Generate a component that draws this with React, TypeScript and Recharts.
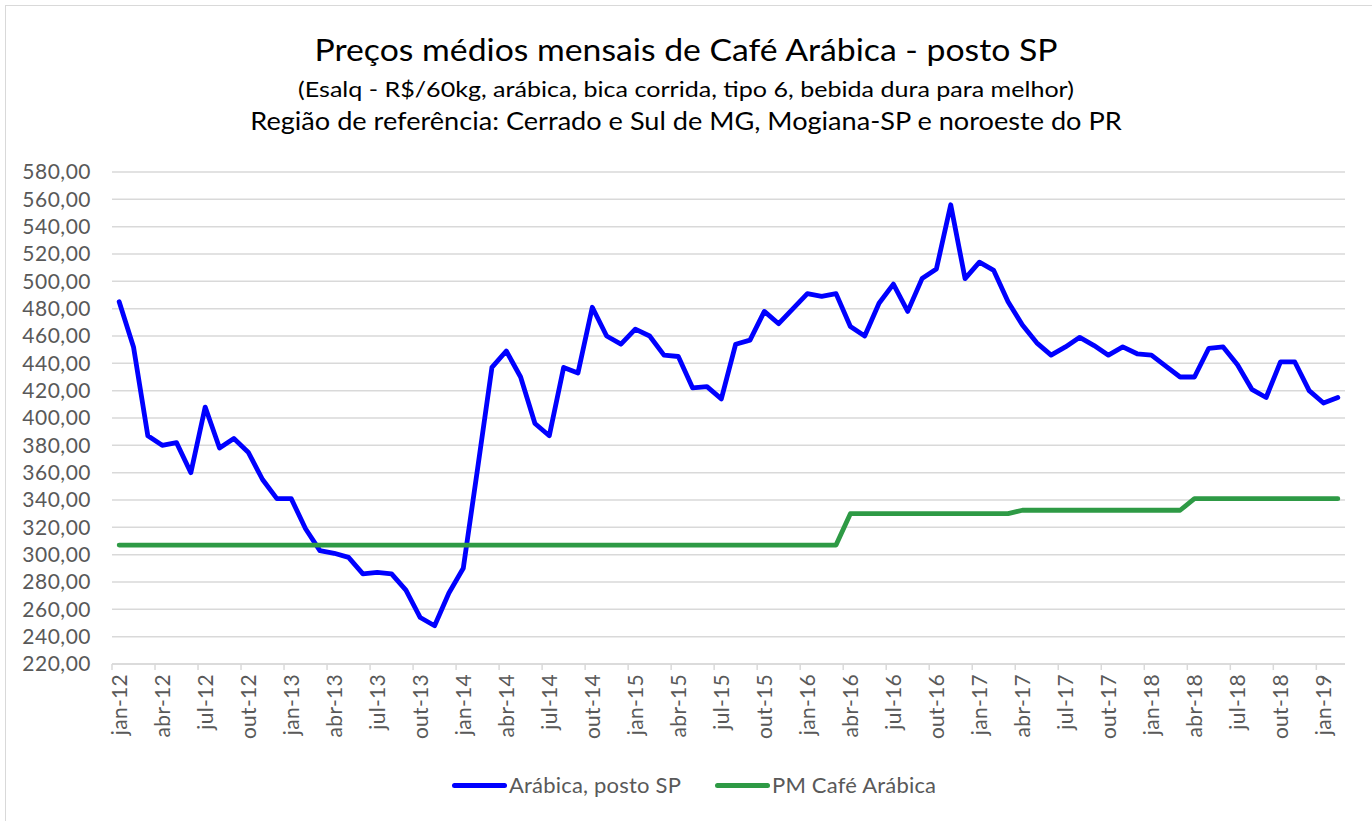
import { CartesianGrid, Line, LineChart, XAxis, YAxis } from "recharts";

const MESES = ["jan", "fev", "mar", "abr", "mai", "jun", "jul", "ago", "set", "out", "nov", "dez"];
const ANOS = ["12", "13", "14", "15", "16", "17", "18", "19"];
const N_MESES = 86; // jan-12 .. fev-19

// Arábica, posto SP (R$/60kg)
const arabica = [
  485, 452, 387, 380, 382, 360, 408, 378, 385, 375, 355, 341,
  341, 319, 303, 301, 298, 286, 287, 286, 274, 254, 248, 272,
  290, 363, 437, 449, 430, 396, 387, 437, 433, 481, 460, 454,
  465, 460, 446, 445, 422, 423, 414, 454, 457, 478, 469, 480,
  491, 489, 491, 467, 460, 484, 498, 478, 502, 509, 556, 502,
  514, 508, 485, 468, 455, 446, 452, 459, 453, 446, 452, 447,
  446, 438, 430, 430, 451, 452, 439, 421, 415, 441, 441, 420,
  411, 415,
];

// PM Café Arábica (preço mínimo)
const precoMinimo = [
  307, 307, 307, 307, 307, 307, 307, 307, 307, 307, 307, 307,
  307, 307, 307, 307, 307, 307, 307, 307, 307, 307, 307, 307,
  307, 307, 307, 307, 307, 307, 307, 307, 307, 307, 307, 307,
  307, 307, 307, 307, 307, 307, 307, 307, 307, 307, 307, 307,
  307, 307, 307, 330, 330, 330, 330, 330, 330, 330, 330, 330,
  330, 330, 330, 332.5, 332.5, 332.5, 332.5, 332.5, 332.5, 332.5, 332.5, 332.5,
  332.5, 332.5, 332.5, 341, 341, 341, 341, 341, 341, 341, 341, 341,
  341, 341,
];

const yTicks = [220, 240, 260, 280, 300, 320, 340, 360, 380, 400, 420, 440, 460, 480, 500, 520, 540, 560, 580];

const data = Array.from({ length: N_MESES }, (_, i) => ({
  mes: `${MESES[i % 12]}-${ANOS[Math.floor(i / 12)]}`,
  arabica: arabica[i],
  pm: precoMinimo[i],
}));

const W = 1372;
const H = 821;
const LEFT = 112;
const RIGHT = 27;
const BAND = (W - LEFT - RIGHT) / N_MESES;
const FONT = "Lato, 'Open Sans', sans-serif";
const GRAY = "#595959";
const BLUE = "#0000ff";
const GREEN = "#2e9a45";

const fmt = (v: number) => v.toFixed(2).replace(".", ",");

const YTick = (props: any) => {
  const { y, payload } = props;
  return (
    <text x={91} y={y} dy="0.35em" textAnchor="end" fill={GRAY} fontSize={21} letterSpacing={0.5} fontFamily={FONT}>
      {fmt(payload.value)}
    </text>
  );
};

const XTick = (props: any) => {
  const { x, y, payload, index } = props;
  if (index % 3 !== 0) return null;
  return (
    <g>
      <line x1={x - BAND / 2} x2={x - BAND / 2} y1={y} y2={y + 6} stroke="#d9d9d9" strokeWidth={1.5} />
      <text
        transform={`translate(${x},${y + 10}) rotate(-90)`}
        dy="0.35em"
        textAnchor="end"
        fill={GRAY}
        fontSize={21}
        letterSpacing={0.3}
        fontFamily={FONT}
      >
        {payload.value}
      </text>
    </g>
  );
};

const titleLine = (top: number, size: number, sx: number) => ({
  position: "absolute" as const,
  top,
  left: 0,
  width: W,
  fontSize: size,
  lineHeight: `${size + 6}px`,
  whiteSpace: "nowrap" as const,
  transform: `scaleX(${sx})`,
});

export default function App() {
  return (
    <div style={{ position: "absolute", left: 0, top: 0, width: W, height: H, background: "#fff", overflow: "hidden" }}>
      <div style={{ position: "absolute", left: 5, top: 5, width: W + 20, height: H + 20, border: "1px solid #d9d9d9" }} />
      <div style={{ position: "absolute", top: 0, left: 0, width: W, textAlign: "center", fontFamily: FONT, color: "#000" }}>
        <div style={titleLine(31, 30, 1.125)}>Preços médios mensais de Café Arábica - posto SP</div>
        <div style={titleLine(75, 22, 1.14)}>
          (Esalq - R$/60kg, arábica, bica corrida, tipo 6, bebida dura para melhor)
        </div>
        <div style={titleLine(105, 25, 1.085)}>
          Região de referência: Cerrado e Sul de MG, Mogiana-SP e noroeste do PR
        </div>
      </div>
      <div style={{ position: "absolute", left: 0, top: 0 }}>
        <LineChart width={W} height={H} data={data} margin={{ top: 172, right: RIGHT, bottom: 77, left: 0 }}>
          <CartesianGrid vertical={false} stroke="#d9d9d9" strokeWidth={1.5} />
          <XAxis
            dataKey="mes"
            interval={0}
            padding={{ left: BAND / 2, right: BAND / 2 }}
            height={80}
            tickLine={false}
            tickSize={0}
            tickMargin={0}
            axisLine={{ stroke: "#d9d9d9", strokeWidth: 1.5 }}
            tick={<XTick />}
          />
          <YAxis
            width={LEFT}
            domain={[220, 580]}
            ticks={yTicks}
            axisLine={false}
            tickLine={false}
            tick={<YTick />}
          />
          <Line
            type="linear"
            dataKey="arabica"
            name="Arábica, posto SP"
            stroke={BLUE}
            strokeWidth={4.8}
            strokeLinejoin="round"
            strokeLinecap="round"
            dot={false}
            isAnimationActive={false}
          />
          <Line
            type="linear"
            dataKey="pm"
            name="PM Café Arábica"
            stroke={GREEN}
            strokeWidth={4.8}
            strokeLinejoin="round"
            strokeLinecap="round"
            dot={false}
            isAnimationActive={false}
          />
        </LineChart>
      </div>
      <div style={{ position: "absolute", top: 771, left: 0, fontFamily: FONT, fontSize: 22, color: GRAY, whiteSpace: "nowrap" }}>
        <span style={{ position: "absolute", left: 452, top: 12, width: 55, height: 5, borderRadius: 3, background: BLUE }} />
        <span style={{ position: "absolute", left: 509, top: 0, letterSpacing: 0.2 }}>Arábica, posto SP</span>
        <span style={{ position: "absolute", left: 715, top: 12, width: 55, height: 5, borderRadius: 3, background: GREEN }} />
        <span style={{ position: "absolute", left: 772, top: 0, letterSpacing: 0.2 }}>PM Café Arábica</span>
      </div>
    </div>
  );
}
